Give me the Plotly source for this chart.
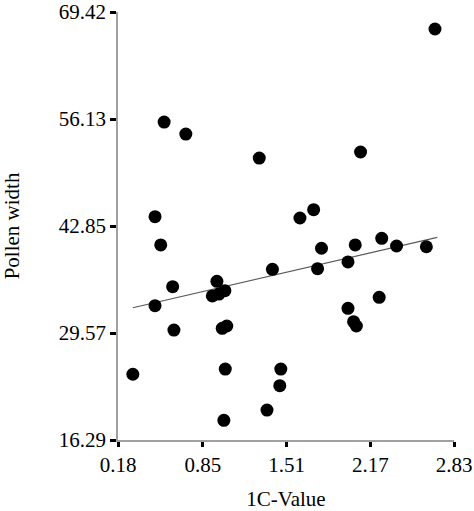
import plotly.graph_objects as go

# 1C-value vs pollen width
c_value = [2.68, 0.544, 0.715, 1.294, 2.093, 1.615, 1.723, 0.472, 0.517, 1.785,
           2.051, 2.26, 2.377, 2.612, 1.398, 1.754, 1.994, 2.24, 1.994, 2.038,
           2.06, 1.464, 1.456, 1.355, 0.611, 0.96, 0.924, 0.976, 1.023, 0.472,
           0.621, 1.002, 1.038, 0.297, 1.026, 1.015]
pollen_width = [67.31, 55.76, 54.27, 51.29, 52.04, 43.85, 44.88, 44.01, 40.5, 40.09,
                40.5, 41.33, 40.37, 40.28, 37.48, 37.56, 38.39, 34.0, 32.64, 30.98,
                30.44, 25.1, 23.03, 20.01, 35.32, 35.99, 34.17, 34.41, 34.83, 32.96,
                29.94, 30.15, 30.44, 24.45, 25.1, 18.73]

# trend line as drawn in the picture (ends at min / max x)
trend_x = [0.297, 2.698]
trend_y = [32.71, 41.45]

x_ticks = [0.18, 0.85, 1.51, 2.17, 2.83]
y_ticks = [16.29, 29.57, 42.85, 56.13, 69.42]

font_family = 'Liberation Serif, Times New Roman, serif'

fig = go.Figure()
fig.add_trace(go.Scatter(x=trend_x, y=trend_y, mode='lines',
                         line=dict(color='#5a5a5a', width=1.2), showlegend=False))
fig.add_trace(go.Scatter(x=c_value, y=pollen_width, mode='markers',
                         marker=dict(color='black', size=13), showlegend=False))

axis_style = dict(showgrid=False, zeroline=False, showline=True, automargin=False,
                  linecolor='#a0a0a0', linewidth=1.5,
                  ticks='outside', tickcolor='black', tickwidth=2.5,
                  ticklabeloverflow='allow',
                  tickfont=dict(family=font_family, size=21, color='black'))

fig.update_xaxes(range=[0.18, 2.83], tickvals=x_ticks,
                 ticktext=[f'{v:.2f}' for v in x_ticks], ticklen=5,
                 title=dict(text='1C-Value', font=dict(family=font_family, size=21, color='black'),
                            standoff=24),
                 **axis_style)
fig.update_yaxes(range=[16.29, 69.42], tickvals=y_ticks,
                 ticktext=[f'{v:.2f}' for v in y_ticks], ticklen=6,
                 title=dict(text='Pollen width', font=dict(family=font_family, size=21, color='black'),
                            standoff=33),
                 **axis_style)

fig.update_layout(width=474, height=511,
                  margin=dict(l=118, r=20, t=12, b=71),
                  paper_bgcolor='white', plot_bgcolor='white')

# drop the default body margin so the figure sits at the window's corner
fig.write_html("out.html", config={'displayModeBar': False},
               post_script="document.body.style.margin='0';")
